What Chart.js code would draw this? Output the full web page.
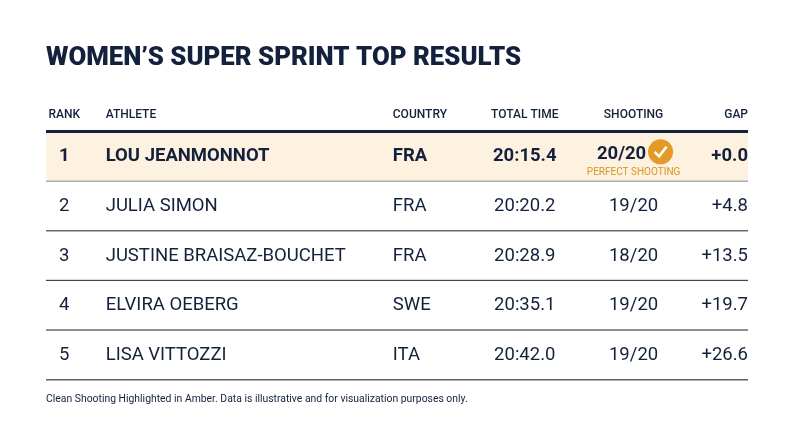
<!DOCTYPE html>
<html><head><meta charset="utf-8">
<script src="https://cdn.jsdelivr.net/npm/chart.js@4"></script>
<style>html,body{margin:0;padding:0;background:#fff}#w{width:800px;height:447px}</style>
</head><body><div id="w"><canvas id="c"></canvas></div>
<script>
const ranks = ["1","2","3","4","5"];
const athletes = ["LOU JEANMONNOT","JULIA SIMON","JUSTINE BRAISAZ-BOUCHET","ELVIRA OEBERG","LISA VITTOZZI"];
const countries = ["FRA","FRA","FRA","SWE","ITA"];
const totalTimes = ["20:15.4","20:20.2","20:28.9","20:35.1","20:42.0"];
const shooting = ["20/20","19/20","18/20","19/20","19/20"];
const gaps = ["+0.0","+4.8","+13.5","+19.7","+26.6"];
const headers = ["RANK","ATHLETE","COUNTRY","TOTAL TIME","SHOOTING","GAP"];
const perfect = shooting.map(s => s === "20/20");

const NAVY = "#14213d", F = "Roboto, 'Liberation Sans', sans-serif";
const tablePlugin = {
  id: "tbl",
  afterDatasetsDraw(chart) {
    const ctx = chart.ctx, x = chart.scales.x, y = chart.scales.y;
    const colRank = x.getPixelForValue(2.6), colAth = x.getPixelForValue(8.5),
      colCty = x.getPixelForValue(49.4), colTime = x.getPixelForValue(68.2),
      colShoot = x.getPixelForValue(83.7), colGap = x.getPixelForValue(100);
    const L = x.left, R = x.right;
    ctx.save();
    ctx.fillStyle = NAVY; ctx.textBaseline = "middle";
    ctx.font = "900 25.8px " + F; ctx.textAlign = "left";
    ctx.fillText("WOMEN\u2019S SUPER SPRINT TOP RESULTS", 46, 59);
    ctx.font = "500 12px " + F;
    const hy = 115;
    ctx.textAlign = "center"; ctx.fillText(headers[0], colRank, hy);
    ctx.textAlign = "left"; ctx.fillText(headers[1], colAth, hy); ctx.fillText(headers[2], colCty, hy);
    ctx.textAlign = "center"; ctx.fillText(headers[3], colTime, hy); ctx.fillText(headers[4], colShoot, hy);
    ctx.textAlign = "right"; ctx.fillText(headers[5], colGap, hy);
    ctx.fillRect(L, y.top - 2, R - L, 3);
    const band = (y.bottom - y.top) / ranks.length;
    ranks.forEach((r, i) => {
      const cy = y.getPixelForValue(i);
      const bold = i === 0;
      ctx.fillStyle = NAVY;
      ctx.font = (bold ? "700 " : "400 ") + "18.5px " + F;
      ctx.textAlign = "center"; ctx.fillText(r, colRank, cy);
      ctx.textAlign = "left"; ctx.fillText(athletes[i], colAth, cy); ctx.fillText(countries[i], colCty, cy);
      ctx.textAlign = "center"; ctx.fillText(totalTimes[i], colTime, cy);
      ctx.textAlign = "right"; ctx.fillText(gaps[i], colGap, cy);
      if (perfect[i]) {
        ctx.textAlign = "center"; ctx.fillText(shooting[i], colShoot - 12, cy - 2);
        ctx.fillStyle = "#e39a26"; ctx.beginPath(); ctx.arc(colShoot + 27, cy - 5, 12.5, 0, Math.PI * 2); ctx.fill();
        ctx.strokeStyle = "#fff"; ctx.lineWidth = 2.5; ctx.beginPath();
        ctx.moveTo(colShoot + 21, cy - 5); ctx.lineTo(colShoot + 25.5, cy - 0.5); ctx.lineTo(colShoot + 33, cy - 10); ctx.stroke();
        ctx.fillStyle = "#d99424"; ctx.font = "400 10px " + F; ctx.fillText("PERFECT SHOOTING", colShoot, cy + 16);
      } else {
        ctx.textAlign = "center"; ctx.fillText(shooting[i], colShoot, cy);
      }
      const ly = y.top + band * (i + 1);
      ctx.fillStyle = i === ranks.length - 1 ? "#5a6170" : (i === 0 ? "#9a9ea6" : "#3e4556");
      ctx.fillRect(L, ly - 1, R - L, i === ranks.length - 1 ? 1.5 : 1.2);
    });
    ctx.fillStyle = NAVY; ctx.font = "400 10.4px " + F; ctx.textAlign = "left";
    ctx.fillText("Clean Shooting Highlighted in Amber. Data is illustrative and for visualization purposes only.", 46, 399);
    ctx.restore();
  }
};
new Chart(document.getElementById("c"), {
  type: "bar",
  data: { labels: ranks, datasets: [{
    data: ranks.map(() => [0, 100]),
    backgroundColor: perfect.map(p => p ? "#fdf1e0" : "rgba(0,0,0,0)"),
    barPercentage: 1, categoryPercentage: 1, borderWidth: 0
  }]},
  options: {
    indexAxis: "y", responsive: true, maintainAspectRatio: false, animation: false,
    layout: { padding: { left: 46, right: 52, top: 132, bottom: 67 } },
    plugins: { legend: { display: false }, tooltip: { enabled: false } },
    scales: {
      x: { type: "linear", min: 0, max: 100, display: false },
      y: { type: "category", display: false, offset: true }
    }
  },
  plugins: [tablePlugin]
});
</script></body></html>
